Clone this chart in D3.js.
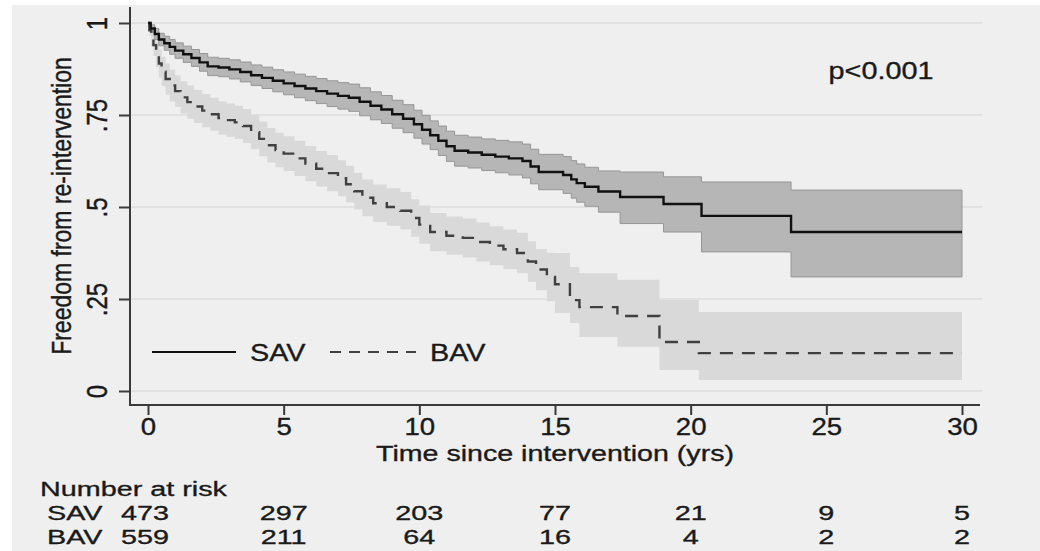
<!DOCTYPE html>
<html><head><meta charset="utf-8">
<script src="https://cdn.jsdelivr.net/npm/d3@7"></script>
<style>body{margin:0;background:#fff} svg{display:block}</style>
</head><body>
<svg id="c" width="1040" height="551"></svg>
<script>
// ---- data ----
const timeTicks = [0, 5, 10, 15, 20, 25, 30];
const survTicks = [0, 0.25, 0.5, 0.75, 1];
const survTickLabels = ["0", ".25", ".5", ".75", "1"];
const groups = ["SAV", "BAV"];
const riskSAV = [473, 297, 203, 77, 21, 9, 5];
const riskBAV = [559, 211, 64, 16, 4, 2, 2];
const followUpEnd = 30;
const pText = "p<0.001";

const savTime  = [0, 0.1, 0.25, 0.4, 0.6, 0.8, 1.0, 1.3, 1.6, 1.9, 2.2, 2.6, 3.0, 3.4, 3.8, 4.2, 4.6, 5.0, 5.4, 5.8, 6.2, 6.6, 7.0, 7.4, 7.8, 8.2, 8.6, 9.0, 9.4, 9.8, 10.1, 10.4, 10.7, 11.0, 11.3, 11.8, 12.3, 12.8, 13.3, 13.8, 14.1, 14.4, 15.3, 15.6, 15.8, 16.1, 16.6, 17.4, 19.0, 20.4, 23.7];
const savSurv  = [1, 0.985, 0.97, 0.955, 0.945, 0.935, 0.925, 0.915, 0.905, 0.893, 0.882, 0.879, 0.874, 0.867, 0.858, 0.851, 0.843, 0.836, 0.829, 0.822, 0.815, 0.808, 0.802, 0.797, 0.786, 0.775, 0.765, 0.752, 0.740, 0.725, 0.71, 0.695, 0.68, 0.665, 0.653, 0.648, 0.642, 0.637, 0.632, 0.625, 0.61, 0.595, 0.587, 0.575, 0.565, 0.555, 0.542, 0.527, 0.508, 0.476, 0.432];
const savUpper = [1, 0.995, 0.985, 0.972, 0.964, 0.955, 0.946, 0.937, 0.928, 0.917, 0.907, 0.904, 0.90, 0.894, 0.886, 0.88, 0.873, 0.867, 0.861, 0.855, 0.849, 0.843, 0.838, 0.834, 0.824, 0.813, 0.803, 0.790, 0.778, 0.763, 0.749, 0.734, 0.72, 0.706, 0.695, 0.69, 0.685, 0.681, 0.677, 0.671, 0.657, 0.643, 0.637, 0.626, 0.617, 0.608, 0.598, 0.595, 0.582, 0.568, 0.546];
const savLower = [1, 0.975, 0.955, 0.938, 0.926, 0.915, 0.904, 0.893, 0.882, 0.869, 0.857, 0.854, 0.848, 0.84, 0.83, 0.822, 0.813, 0.805, 0.797, 0.789, 0.781, 0.773, 0.766, 0.760, 0.748, 0.737, 0.727, 0.714, 0.702, 0.687, 0.671, 0.656, 0.64, 0.624, 0.611, 0.606, 0.599, 0.593, 0.587, 0.579, 0.563, 0.547, 0.537, 0.524, 0.513, 0.502, 0.486, 0.455, 0.432, 0.378, 0.31];

const bavTime  = [0, 0.05, 0.12, 0.2, 0.3, 0.4, 0.5, 0.65, 0.8, 1.0, 1.2, 1.45, 1.7, 2.0, 2.3, 2.6, 2.9, 3.2, 3.5, 3.8, 4.1, 4.4, 4.7, 5.0, 5.4, 5.8, 6.2, 6.6, 7.0, 7.3, 7.6, 7.9, 8.3, 8.8, 9.3, 9.7, 10.0, 10.4, 11.0, 11.6, 12.1, 12.6, 13.1, 13.6, 14.0, 14.3, 14.7, 15.0, 15.55, 15.9, 17.3, 18.85, 20.3];
const bavSurv  = [1, 0.98, 0.96, 0.94, 0.915, 0.89, 0.868, 0.848, 0.83, 0.815, 0.798, 0.785, 0.773, 0.762, 0.752, 0.742, 0.736, 0.73, 0.72, 0.703, 0.685, 0.668, 0.655, 0.645, 0.632, 0.618, 0.604, 0.592, 0.578, 0.562, 0.543, 0.525, 0.51, 0.5, 0.49, 0.47, 0.452, 0.432, 0.422, 0.416, 0.405, 0.395, 0.385, 0.375, 0.352, 0.33, 0.31, 0.29, 0.247, 0.228, 0.204, 0.133, 0.103];
const bavUpper = [1, 0.995, 0.985, 0.97, 0.95, 0.928, 0.908, 0.89, 0.873, 0.858, 0.842, 0.83, 0.818, 0.807, 0.797, 0.787, 0.781, 0.775, 0.766, 0.749, 0.732, 0.715, 0.702, 0.692, 0.68, 0.666, 0.652, 0.641, 0.627, 0.612, 0.593, 0.575, 0.561, 0.551, 0.541, 0.521, 0.504, 0.484, 0.474, 0.469, 0.458, 0.448, 0.439, 0.43, 0.407, 0.386, 0.376, 0.375, 0.337, 0.32, 0.302, 0.247, 0.215];
const bavLower = [1, 0.965, 0.935, 0.91, 0.88, 0.852, 0.828, 0.806, 0.787, 0.772, 0.754, 0.74, 0.728, 0.717, 0.707, 0.697, 0.691, 0.685, 0.674, 0.657, 0.638, 0.621, 0.608, 0.598, 0.584, 0.57, 0.556, 0.543, 0.529, 0.512, 0.493, 0.475, 0.459, 0.449, 0.439, 0.419, 0.40, 0.38, 0.37, 0.363, 0.352, 0.342, 0.331, 0.32, 0.297, 0.274, 0.244, 0.212, 0.185, 0.147, 0.12, 0.057, 0.03];

// ---- chart ----
const svg = d3.select("#c");
const FONT = "'Liberation Sans', Arial, sans-serif";
const SX = 1.2; // horizontal stretch of text in the original
const FS = 24;
const ink = "#1a1a1a", axisCol = "#3a3a3a";

svg.append("rect").attr("x", 12).attr("y", 5).attr("width", 1028).attr("height", 546).attr("fill", "#efefef");

const x = d3.scaleLinear().domain([0, 30]).range([148, 962]);
const y = d3.scaleLinear().domain([0, 1]).range([391, 23]);
const axisX0 = 130, axisY0 = 405;

// gridlines
svg.append("g").selectAll("line").data(survTicks).join("line")
  .attr("x1", axisX0).attr("x2", 982)
  .attr("y1", d => y(d)).attr("y2", d => y(d))
  .attr("stroke", "#dcdcdc").attr("stroke-width", 1.5);

function build(t, s, lo, hi) {
  const d = t.map((tt, i) => ({t: tt, s: s[i], lo: lo[i], hi: hi[i]}));
  const last = d[d.length - 1];
  d.push({t: followUpEnd, s: last.s, lo: last.lo, hi: last.hi});
  return d;
}
const sav = build(savTime, savSurv, savLower, savUpper);
const bav = build(bavTime, bavSurv, bavLower, bavUpper);

const area = d3.area().curve(d3.curveStepAfter).x(d => x(d.t)).y0(d => y(d.lo)).y1(d => y(d.hi));
const line = d3.line().curve(d3.curveStepAfter).x(d => x(d.t)).y(d => y(d.s));

svg.append("path").datum(bav).attr("d", area).attr("fill", "#d9d9d9");
svg.append("path").datum(sav).attr("d", area).attr("fill", "#b6b6b6").attr("stroke", "#969696").attr("stroke-width", 1);
svg.append("path").datum(bav).attr("d", line).attr("fill", "none").attr("stroke", "#404040").attr("stroke-width", 2.4).attr("stroke-dasharray", "13,9");
svg.append("path").datum(sav).attr("d", line).attr("fill", "none").attr("stroke", "#111").attr("stroke-width", 2.4);

function styleText(sel, fs) {
  return sel.attr("font-family", FONT).attr("font-size", fs || FS).attr("fill", ink)
    .attr("stroke", ink).attr("stroke-width", 0.35);
}

// axes
const gy = svg.append("g").attr("transform", `translate(${axisX0},0)`)
  .call(d3.axisLeft(y).tickValues(survTicks).tickFormat((d, i) => survTickLabels[i]).tickSize(11));
gy.select(".domain").remove();
gy.selectAll(".tick line").attr("stroke", axisCol).attr("stroke-width", 2);
styleText(gy.selectAll(".tick text").attr("x", 0).attr("y", 0).attr("dy", 0)
  .attr("transform", `translate(-23,0) scale(${SX},1) rotate(-90)`)
  .attr("text-anchor", "middle"));

const gx = svg.append("g").attr("transform", `translate(0,${axisY0})`)
  .call(d3.axisBottom(x).tickValues(timeTicks).tickSize(10));
gx.select(".domain").remove();
gx.selectAll(".tick line").attr("stroke", axisCol).attr("stroke-width", 2);
styleText(gx.selectAll(".tick text").attr("y", 30).attr("dy", 0)
  .attr("transform", `scale(${SX},1)`), 23);

svg.append("line").attr("x1", axisX0).attr("x2", axisX0).attr("y1", 7).attr("y2", axisY0 + 1)
  .attr("stroke", axisCol).attr("stroke-width", 2);
svg.append("line").attr("x1", axisX0).attr("x2", 980).attr("y1", axisY0).attr("y2", axisY0)
  .attr("stroke", axisCol).attr("stroke-width", 2);

function txt(xp, yp, s, anchor, rot, fs, sx) {
  return styleText(svg.append("text")
    .attr("transform", `translate(${xp},${yp}) scale(${sx || SX},1)` + (rot ? ` rotate(${rot})` : ""))
    .attr("text-anchor", anchor || "start"), fs).text(s);
}

// titles
txt(555, 461, "Time since intervention (yrs)", "middle", 0, 22, 1.3);
txt(71, 206, "Freedom from re-intervention", "middle", -90, 23);
txt(881, 79, pText, "middle");

// legend
svg.append("line").attr("x1", 152).attr("x2", 236).attr("y1", 352).attr("y2", 352)
  .attr("stroke", "#111").attr("stroke-width", 2);
txt(250, 361, groups[0]);
svg.append("line").attr("x1", 330).attr("x2", 416).attr("y1", 352).attr("y2", 352)
  .attr("stroke", "#404040").attr("stroke-width", 2).attr("stroke-dasharray", "11,8");
txt(430, 361, groups[1]);

// number at risk
const TFS = 21, TSX = 1.37;
txt(40, 496, "Number at risk", "start", 0, TFS, TSX);
const rows = [{name: groups[0], vals: riskSAV, yb: 520}, {name: groups[1], vals: riskBAV, yb: 544}];
rows.forEach(r => {
  txt(47, r.yb, r.name, "start", 0, TFS, TSX);
  r.vals.forEach((v, i) => txt(x(timeTicks[i]) - (i === 0 ? 3 : 0), r.yb, v, "middle", 0, TFS, TSX));
});
</script>
</body></html>
